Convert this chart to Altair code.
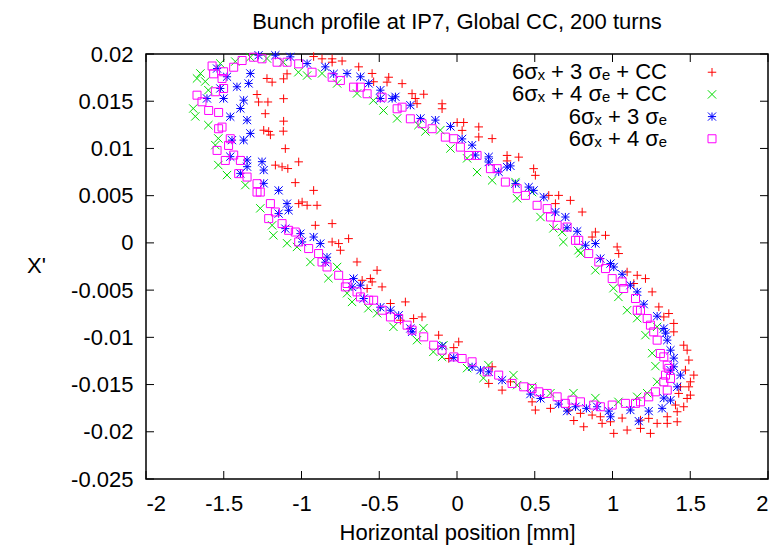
import altair as alt
import pandas as pd

FONT = "Liberation Sans"
TITLE = "Bunch profile at IP7, Global CC, 200 turns"
X_TITLE = "Horizontal position [mm]"
Y_TITLE = "X'"
SERIES = ["6σₓ + 3 σₑ + CC", "6σₓ + 4 σₑ + CC", "6σₓ + 3 σₑ", "6σₓ + 4 σₑ"]
COLORS = ["#ff0000", "#00dd00", "#0000ff", "#ff00ff"]
X_TICKS = [-2, -1.5, -1, -0.5, 0, 0.5, 1, 1.5, 2]
Y_TICKS = [-0.025, -0.02, -0.015, -0.01, -0.005, 0, 0.005, 0.01, 0.015, 0.02]

red_x = [-1.222, -1.189, -1.115, -1.093, -1.286, -1.276, -1.216, -1.115, -1.233, -1.115,
         -1.243, -1.211, -1.200, -1.117, -1.104, -1.018, -1.168, -1.125, -1.088, -1.040,
         -0.922, -1.018, -0.996, -0.964, -0.900, -0.911, -0.803, -0.803, -0.761, -0.697,
         -0.750, -0.643, -0.514, -0.610, -0.557, -0.546, -0.578, -0.482, -0.428, -0.332,
         -0.364, -0.279, -0.225, -0.118, 0.011, -0.021, -0.053, 0.226, 0.204, 0.290,
         0.344, 0.483, 0.504, 0.601, 0.719, 0.751, 0.794, 0.815, 0.869, 0.922,
         0.933, 0.987, 1.008, 1.062, 1.094, 1.180, 1.180, 1.244, 1.233, 1.287,
         1.352, 1.352, 1.416, 1.416, 1.458, 1.405, 1.480, 1.501, 1.426, 1.437,
         1.491, 1.501, 1.523, 1.469, 1.491, 1.480, 1.458, 1.394, 1.394, 1.362,
         1.330, 1.298, 1.255, 1.212, 1.159, 1.137, 1.094, 1.040, 1.030, 0.955,
         0.890, 0.869, 0.805, 0.729, 0.654, 0.590, 0.633, 0.504, 0.493, 0.397,
         0.322, 0.322, 0.226, 0.140, 0.140, 0.043, 0.001, 0.033, -0.096, -0.096,
         -0.214, -0.257, -0.268, -0.289, -0.353, -0.439, -0.450, -0.546, -0.536, -0.632,
         -0.739, -0.803, -0.803, -0.868, -0.922]
red_y = [0.01741, 0.01702, 0.01737, 0.01790, 0.01571, 0.01492, 0.01492, 0.01527, 0.01368, 0.01289,
         0.01193, 0.01180, 0.01143, 0.01183, 0.00998, 0.00858, 0.00823, 0.00805, 0.00787, 0.00638,
         0.00556, 0.00416, 0.00433, 0.00398, 0.00398, 0.00186, 0.00204, 0.00010, -0.00007, 0.00045,
         -0.00078, -0.00202, -0.00290, -0.00396, -0.00378, -0.00413, -0.00483, -0.00466, -0.00642, -0.00625,
         -0.00819, -0.00801, -0.00784, -0.00977, -0.01048, -0.01109, -0.01224, -0.01312, -0.01488, -0.01559,
         -0.01471, -0.01683, -0.01770, -0.01752, -0.01770, -0.01881, -0.01805, -0.01947, -0.01823, -0.01841,
         -0.01911, -0.01894, -0.02017, -0.01855, -0.01982, -0.01964, -0.01876, -0.02017, -0.01858, -0.01911,
         -0.01911, -0.01841, -0.01894, -0.01788, -0.01735, -0.01717, -0.01647, -0.01612, -0.01594, -0.01524,
         -0.01524, -0.01471, -0.01400, -0.01347, -0.01241, -0.01136, -0.01083, -0.00942, -0.00853, -0.00748,
         -0.00784, -0.00678, -0.00519, -0.00378, -0.00343, -0.00430, -0.00308, -0.00113, -0.00043, 0.00080,
         0.00115, 0.00062, 0.00327, 0.00450, 0.00503, 0.00503, 0.00416, 0.00715, 0.00786, 0.00908,
         0.00926, 0.00868, 0.01104, 0.01228, 0.01122, 0.01275, 0.01275, 0.01191, 0.01473, 0.01420,
         0.01574, 0.01474, 0.01529, 0.01580, 0.01686, 0.01754, 0.01702, 0.01794, 0.01706, 0.01864,
         0.01926, 0.01949, 0.01913, 0.01949, 0.01973]

green_x = [-1.696, -1.683, -1.672, -1.650, -1.619, -1.599, -1.599, -1.554, -1.535, -1.535,
           -1.522, -1.479, -1.426, -1.361, -1.329, -1.265, -1.222, -1.189, -1.181, -1.117,
           -1.093, -1.029, -1.020, -0.964, -0.943, -0.868, -0.827, -0.771, -0.771, -0.707,
           -0.675, -0.643, -0.570, -0.538, -0.514, -0.473, -0.409, -0.385, -0.257, -0.248,
           -0.216, -0.203, -0.152, -0.107, -0.096, -0.087, -0.042, 0.065, 0.065, 0.129,
           0.170, 0.202, 0.226, 0.376, 0.363, 0.387, 0.387, 0.483, 0.483, 0.537,
           0.601, 0.620, 0.676, 0.684, 0.749, 0.781, 0.794, 0.890, 0.890, 1.006,
           1.038, 1.038, 1.094, 1.159, 1.159, 1.212, 1.223, 1.255, 1.276, 1.287,
           1.287]
green_y = [0.01423, 0.01339, 0.01741, 0.01794, 0.01709, 0.01617, 0.01247, 0.01035, 0.01106, 0.00824,
           0.01899, 0.00718, 0.01920, 0.00612, 0.01966, 0.00366, 0.01952, 0.00186, 0.00080, 0.01913,
           -0.00004, -0.00043, 0.01807, 0.01772, -0.00202, 0.01794, -0.00374, 0.01688, -0.00255, -0.00533,
           -0.00625, 0.01582, -0.00692, 0.01508, -0.00745, 0.01402, -0.00889, 0.01318, -0.01030, 0.01247,
           -0.00903, 0.01180, -0.01154, 0.01194, -0.01207, -0.01083, 0.01000, 0.00895, -0.01326, 0.00750,
           -0.01432, -0.01294, 0.00662, 0.00644, -0.01400, 0.00472, -0.01506, 0.00538, -0.01524, 0.00274,
           -0.01591, 0.00154, 0.00115, 0.00010, -0.01591, -0.00078, -0.00110, -0.00290, -0.01643, -0.00480,
           -0.00572, -0.01683, -0.00713, -0.00797, -0.01630, -0.00977, -0.01591, -0.01168, -0.01305, -0.01471,
           -0.00889]

blue_x = [-1.543, -1.479, -1.415, -1.340, -1.329, -1.276, -1.168, -1.072, -0.964, -0.847,
          -1.608, -1.522, -1.501, -1.372, -1.393, -1.458, -1.350, -1.329, -1.372, -1.447,
          -1.458, -1.350, -1.254, -1.243, -1.350, -1.393, -1.243, -1.147, -1.093, -1.083,
          -1.147, -1.104, -1.007, -0.996, -0.922, -0.879, -0.836, -0.847, -0.665, -0.621,
          -0.675, -0.600, -0.493, -0.428, -0.375, -0.300, -0.289, -0.096, -0.021, 0.097,
          0.151, 0.204, 0.290, 0.472, 0.537, 0.654, 0.708, 0.762, 0.832, 0.901,
          0.976, 0.987, 1.115, 1.169, 1.233, 1.319, 1.330, 1.373, 1.416, 1.437,
          1.394, 1.373, 1.394, 1.373, 1.352, 1.341, 1.330, 1.287, 1.201, 1.159,
          1.115, 1.062, 1.008, 0.987, 0.922, 0.890, 0.826, 0.773, 0.708, 0.697,
          0.633, 0.558, 0.493, 0.461, 0.376, 0.268, 0.344, 0.322, 0.204, 0.204,
          0.118, 0.097, 0.033, -0.042, -0.139, -0.235, -0.300, -0.396, -0.417, -0.493,
          -0.493, -0.568, -0.621, -0.707, -0.793]
blue_y = [0.01846, 0.01759, 0.01653, 0.01688, 0.01794, 0.01987, 0.01987, 0.01970, 0.01899, 0.01864,
          0.01529, 0.01635, 0.01529, 0.01511, 0.01423, 0.01336, 0.01300, 0.01159, 0.01088, 0.01088,
          0.00913, 0.00877, 0.00860, 0.00771, 0.00807, 0.00736, 0.00630, 0.00556, 0.00416, 0.00345,
          0.00310, 0.00151, 0.00098, 0.00010, 0.00062, -0.00007, -0.00152, -0.00205, -0.00378, -0.00448,
          -0.00466, -0.00589, -0.00681, -0.00713, -0.00766, -0.00906, -0.00942, -0.01093, -0.01215, -0.01312,
          -0.01347, -0.01365, -0.01453, -0.01601, -0.01647, -0.01707, -0.01781, -0.01735, -0.01752, -0.01735,
          -0.01781, -0.01841, -0.01770, -0.01887, -0.01781, -0.01752, -0.01643, -0.01665, -0.01524, -0.01400,
          -0.01312, -0.01347, -0.01220, -0.01136, -0.01030, -0.00956, -0.00906, -0.00776, -0.00649, -0.00519,
          -0.00448, -0.00332, -0.00255, -0.00219, -0.00166, -0.00007, -0.00025, 0.00123, 0.00160, 0.00274,
          0.00327, 0.00485, 0.00556, 0.00591, 0.00627, 0.00752, 0.00815, 0.00803, 0.00911, 0.00856,
          0.00930, 0.01035, 0.01101, 0.01233, 0.01300, 0.01318, 0.01458, 0.01547, 0.01529, 0.01617,
          0.01529, 0.01688, 0.01759, 0.01794, 0.01790]

magenta_x = [-1.672, -1.640, -1.597, -1.575, -1.565, -1.533, -1.554, -1.511, -1.501, -1.501,
             -1.533, -1.511, -1.458, -1.469, -1.543, -1.490, -1.436, -1.393, -1.404, -1.350,
             -1.286, -1.286, -1.265, -1.200, -1.168, -1.211, -1.125, -1.083, -1.040, -1.018,
             -0.954, -0.890, -0.868, -0.836, -0.761, -0.718, -0.707, -0.643, -0.621, -0.568,
             -0.536, -0.482, -0.428, -0.375, -0.321, -0.289, -0.214, -0.150, -0.096, -0.021,
             0.033, 0.097, 0.194, 0.268, 0.354, 0.429, 0.483, 0.526, 0.580, 0.644,
             0.697, 0.740, 0.794, 0.879, 0.922, 0.998, 1.083, 1.148, 1.180, 1.233,
             1.276, 1.352, 1.330, 1.373, 1.341, 1.362, 1.352, 1.330, 1.308, 1.287,
             1.265, 1.244, 1.223, 1.180, 1.159, 1.148, 1.072, 1.062, 0.998, 0.955,
             0.912, 0.847, 0.783, 0.762, 0.708, 0.644, 0.601, 0.580, 0.515, 0.440,
             0.387, 0.311, 0.258, 0.215, 0.129, 0.075, 0.022, -0.021, -0.075, -0.160,
             -0.225, -0.300, -0.353, -0.385, -0.482, -0.578, -0.621, -0.665, -0.750, -0.803,
             -0.932, -1.018, -1.093, -1.157, -1.254, -1.308, -1.382, -1.436]
magenta_y = [0.01564, 0.01494, 0.01402, 0.01873, 0.01790, 0.01381, 0.01600, 0.01741, 0.01812, 0.01635,
             0.01209, 0.01226, 0.01103, 0.01032, 0.00979, 0.00873, 0.00930, 0.00873, 0.00733, 0.00697,
             0.00627, 0.00538, 0.00538, 0.00416, 0.00327, 0.00257, 0.00204, 0.00133, 0.00115, 0.00010,
             -0.00060, -0.00113, -0.00202, -0.00255, -0.00343, -0.00466, -0.00430, -0.00519, -0.00572, -0.00607,
             -0.00607, -0.00713, -0.00784, -0.00801, -0.00871, -0.00924, -0.00995, -0.01083, -0.01136, -0.01207,
             -0.01224, -0.01259, -0.01365, -0.01400, -0.01488, -0.01524, -0.01541, -0.01577, -0.01594, -0.01630,
             -0.01699, -0.01665, -0.01683, -0.01717, -0.01735, -0.01717, -0.01699, -0.01699, -0.01683, -0.01630,
             -0.01577, -0.01559, -0.01471, -0.01435, -0.01400, -0.01329, -0.01294, -0.01207, -0.01171, -0.01030,
             -0.00942, -0.00871, -0.00801, -0.00713, -0.00713, -0.00589, -0.00483, -0.00413, -0.00378, -0.00272,
             -0.00202, -0.00113, 0.00027, 0.00027, 0.00168, 0.00186, 0.00274, 0.00363, 0.00398, 0.00503,
             0.00574, 0.00644, 0.00786, 0.00786, 0.00926, 0.00926, 0.01014, 0.01103, 0.01120, 0.01209,
             0.01262, 0.01314, 0.01437, 0.01420, 0.01543, 0.01579, 0.01649, 0.01649, 0.01720, 0.01754,
             0.01807, 0.01896, 0.01913, 0.01913, 0.01949, 0.01966, 0.01931, 0.01860]

frames = []
for name, xs, ys in zip(SERIES,
                        [red_x, green_x, blue_x, magenta_x],
                        [red_y, green_y, blue_y, magenta_y]):
    frames.append(pd.DataFrame({"x": xs, "y": ys, "series": name}))
df = pd.concat(frames, ignore_index=True)
df["order"] = range(len(df))

W, H = 622, 425
TICK = 8

PLUS = "M-1,0L1,0M0,-1L0,1"
CROSS = "M-1,-1L1,1M-1,1L1,-1"
STAR = "M-1,0L1,0M0,-1L0,1M-1,-1L1,1M-1,1L1,-1"

XS = alt.Scale(domain=[-2, 2], nice=False, zero=False)
YS = alt.Scale(domain=[-0.025, 0.02], nice=False, zero=False)
shape_enc = alt.Shape("series:N", scale=alt.Scale(domain=SERIES, range=[PLUS, CROSS, STAR, "square"]), legend=None)
color_enc = alt.Color("series:N", scale=alt.Scale(domain=SERIES, range=COLORS), legend=None)
size_enc = alt.Size("series:N", scale=alt.Scale(domain=SERIES, range=[72, 64, 64, 52]), legend=None)

x_axis = alt.Axis(
    values=X_TICKS, labelExpr="'' + datum.value", ticks=False, domain=False, grid=False,
    labelFont=FONT, labelFontSize=22, labelColor="black", labelPadding=14,
    title=X_TITLE, titleFont=FONT, titleFontSize=22, titleFontWeight="normal", titleColor="black",
    titleX=W / 2, titleY=53, titleBaseline="middle", titleAlign="center")
y_axis = alt.Axis(
    values=Y_TICKS, labelExpr="'' + datum.value", ticks=False, domain=False, grid=False,
    labelFont=FONT, labelFontSize=22, labelColor="black", labelPadding=13,
    title=Y_TITLE, titleFont=FONT, titleFontSize=22, titleFontWeight="normal", titleColor="black",
    titleAngle=0, titleX=-110, titleY=211, titleBaseline="middle", titleAlign="center")

points = alt.Chart(df).mark_point(filled=False, strokeWidth=1, opacity=1).encode(
    x=alt.X("x:Q", scale=XS, axis=x_axis),
    y=alt.Y("y:Q", scale=YS, axis=y_axis),
    shape=shape_enc, color=color_enc, size=size_enc,
    order=alt.Order("order:Q"),
)

xt = pd.DataFrame({"v": X_TICKS})
yt = pd.DataFrame({"v": Y_TICKS})
tick_style = dict(color="black", strokeWidth=1)
bottom_ticks = alt.Chart(xt).mark_rule(**tick_style).encode(
    x=alt.X("v:Q", scale=XS, axis=x_axis), y=alt.value(H), y2=alt.value(H - TICK))
top_ticks = alt.Chart(xt).mark_rule(**tick_style).encode(
    x=alt.X("v:Q", scale=XS, axis=x_axis), y=alt.value(0), y2=alt.value(TICK))
left_ticks = alt.Chart(yt).mark_rule(**tick_style).encode(
    y=alt.Y("v:Q", scale=YS, axis=y_axis), x=alt.value(0), x2=alt.value(TICK))
right_ticks = alt.Chart(yt).mark_rule(**tick_style).encode(
    y=alt.Y("v:Q", scale=YS, axis=y_axis), x=alt.value(W), x2=alt.value(W - TICK))

# legend rows: placed top-right inside the frame, one row per series
leg = pd.DataFrame({"series": SERIES, "i": [0, 1, 2, 3]})
leg_base = alt.Chart(leg).transform_calculate(ly="0.01807 - 0.002348 * datum.i")
leg_text = leg_base.mark_text(align="right", baseline="middle", font=FONT, fontSize=22, color="black").encode(
    x=alt.value(521), y=alt.Y("ly:Q", scale=YS, axis=y_axis), text="series:N")
leg_sym = leg_base.mark_point(filled=False, strokeWidth=1, opacity=1).encode(
    x=alt.value(566), y=alt.Y("ly:Q", scale=YS, axis=y_axis),
    shape=shape_enc, color=color_enc, size=size_enc)

chart = alt.layer(points, bottom_ticks, top_ticks, left_ticks, right_ticks, leg_text, leg_sym).properties(
    width=W, height=H,
    title=alt.Title(TITLE, font=FONT, fontSize=22, fontWeight="normal", color="black",
                    anchor="middle", offset=9),
    autosize=alt.AutoSizeParams(type="none"),
    padding={"left": 146, "top": 54, "right": 16, "bottom": 70},
    background="white",
).configure_view(stroke="black", strokeWidth=1.5)

chart.save("out.html", embed_options={"renderer": "svg", "actions": False})
